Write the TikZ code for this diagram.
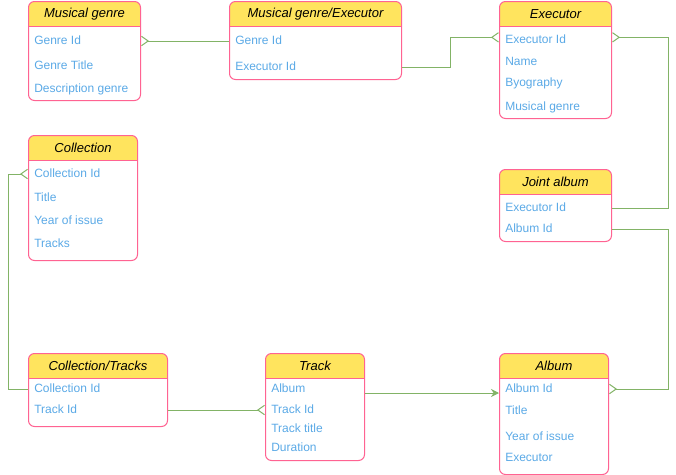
\documentclass[tikz,border=0pt]{standalone}
\usepackage{fontspec}
\setmainfont{Liberation Sans}
\usetikzlibrary{positioning,arrows.meta}

\definecolor{erfill}{HTML}{FFE45E}
\definecolor{erline}{HTML}{FF6392}
\definecolor{ertext}{HTML}{5AA9E6}
\definecolor{erconn}{HTML}{82B366}

\begin{document}
\begin{tikzpicture}[x = 0.75pt, y = -0.75pt,
    entity/.style = {draw = erline, line width = 0.75pt, rounded corners = 4.5pt, anchor = north west, inner sep = 0pt,
        path picture = {
            \fill [erfill, sharp corners] (path picture bounding box.north west) rectangle ([yshift = -18.75pt]path picture bounding box.north east) ;
            \draw [erline, line width = 0.75pt, sharp corners] ([yshift = -18.75pt]path picture bounding box.north west) -- ([yshift = -18.75pt]path picture bounding box.north east) ;
        }},
    etitle/.style = {font = \fontsize{9.75pt}{11pt}\selectfont\itshape, text = black, inner sep = 0pt, minimum height = 18.75pt},
    item/.style = {font = \fontsize{9pt}{11pt}\selectfont, text = ertext, anchor = west, inner sep = 0pt, text height = 6.5pt, text depth = 1.9pt},
    conn/.style = {draw = erconn, line width = 0.75pt},
    crow/.style = {-{Straight Barb[reversed, length = 5pt, width = 7pt]}}
    ]
        \useasboundingbox (0, 0) rectangle (676, 475) ;

        \node [entity, minimum width = 84pt, minimum height = 74.25pt] (genre) at (28, 1) {} ;
        \node [etitle, below = 0pt of genre.north] (genre-t) {Musical genre} ;
        \node [item] (genre-1) at (34, 41) {Genre Id} ;
        \node [item] (genre-2) at (34, 66) {Genre Title} ;
        \node [item] (genre-3) at (34, 89) {Description genre} ;

        \node [entity, minimum width = 129pt, minimum height = 58.5pt] (ge) at (229, 1) {} ;
        \node [etitle, below = 0pt of ge.north] (ge-t) {Musical genre/Executor} ;
        \node [item] (ge-1) at (235, 41) {Genre Id} ;
        \node [item] (ge-2) at (235, 67) {Executor Id} ;

        \node [entity, minimum width = 84pt, minimum height = 87.75pt] (exec) at (499, 1) {} ;
        \node [etitle, below = 0pt of exec.north] (exec-t) {Executor} ;
        \node [item] (exec-1) at (505, 40) {Executor Id} ;
        \node [item] (exec-2) at (505, 62) {Name} ;
        \node [item] (exec-3) at (505, 83) {Byography} ;
        \node [item] (exec-4) at (505, 107) {Musical genre} ;

        \node [entity, minimum width = 81.75pt, minimum height = 93.75pt] (coll) at (28, 135) {} ;
        \node [etitle, below = 0pt of coll.north] (coll-t) {Collection} ;
        \node [item] (coll-1) at (34, 174) {Collection Id} ;
        \node [item] (coll-2) at (34, 198) {Title} ;
        \node [item] (coll-3) at (34, 221) {Year of issue} ;
        \node [item] (coll-4) at (34, 244) {Tracks} ;

        \node [entity, minimum width = 84pt, minimum height = 54pt] (ja) at (499, 169) {} ;
        \node [etitle, below = 0pt of ja.north] (ja-t) {Joint album} ;
        \node [item] (ja-1) at (505, 208) {Executor Id} ;
        \node [item] (ja-2) at (505, 229) {Album Id} ;

        \node [entity, minimum width = 104.25pt, minimum height = 54.75pt] (ct) at (28, 353) {} ;
        \node [etitle, below = 0pt of ct.north] (ct-t) {Collection/Tracks} ;
        \node [item] (ct-1) at (34, 389) {Collection Id} ;
        \node [item] (ct-2) at (34, 410) {Track Id} ;

        \node [entity, minimum width = 74.25pt, minimum height = 80.25pt] (track) at (265, 353) {} ;
        \node [etitle, below = 0pt of track.north] (track-t) {Track} ;
        \node [item] (track-1) at (271, 389) {Album} ;
        \node [item] (track-2) at (271, 410) {Track Id} ;
        \node [item] (track-3) at (271, 429) {Track title} ;
        \node [item] (track-4) at (271, 448) {Duration} ;

        \node [entity, minimum width = 81.75pt, minimum height = 90.75pt] (album) at (499, 353) {} ;
        \node [etitle, below = 0pt of album.north] (album-t) {Album} ;
        \node [item] (album-1) at (505, 389) {Album Id} ;
        \node [item] (album-2) at (505, 411) {Title} ;
        \node [item] (album-3) at (505, 437) {Year of issue} ;
        \node [item] (album-4) at (505, 458) {Executor} ;

        \draw [conn, crow] (ge.west |- ge-1) -- (genre.east |- genre-1) ;
        \draw [conn, crow] (ge.east |- ge-2) -- ++(48, 0) |- ([yshift = 2pt]exec.west |- exec-1) ;
        \draw [conn, crow] (ja.east |- ja-1) -- ++(56, 0) |- ([yshift = 2pt]exec.east |- exec-1) ;
        \draw [conn, crow] (ja.east |- ja-2) -- ++(56, 0) |- (album.east |- album-1) ;
        \draw [conn, crow] (ct.west |- ct-1) -- ++(-20, 0) |- (coll.west |- coll-1) ;
        \draw [conn, crow] (ct.east |- ct-2) -- (track.west |- ct-2) ;
        \draw [conn, -{Stealth[length = 6pt, width = 6pt]}] ([yshift = -3pt]track.east |- track-1) -- ([yshift = -3pt]album.west |- track-1) ;
    \end{tikzpicture}
\end{document}
